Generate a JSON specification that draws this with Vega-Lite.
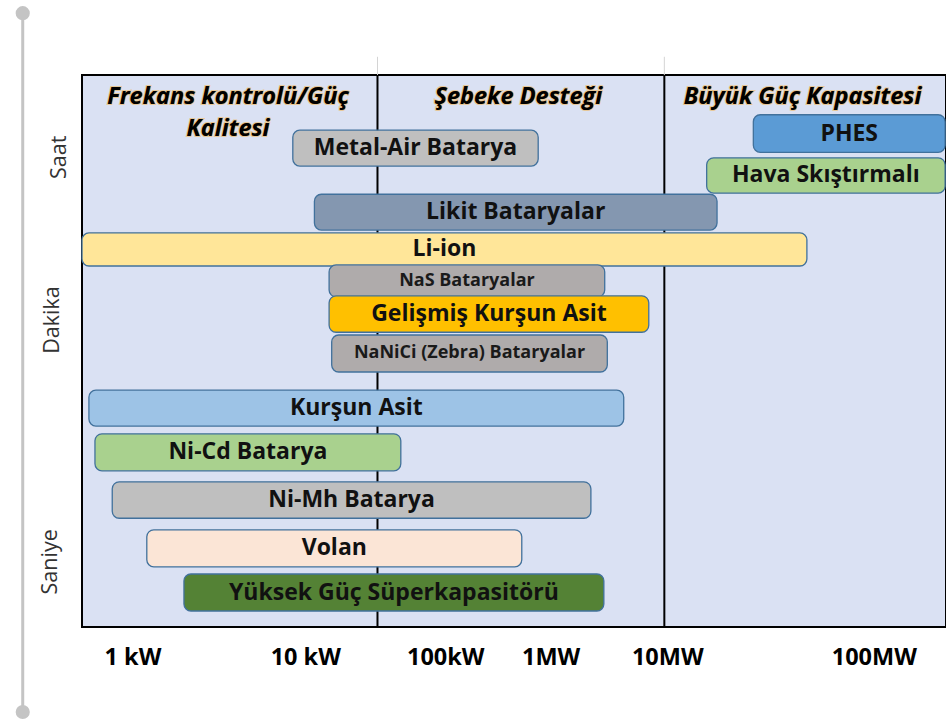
{
  "$schema": "https://vega.github.io/schema/vega-lite/v6.json",
  "width": 864,
  "height": 552,
  "autosize": {"type": "none"},
  "padding": {"left": 82, "top": 75, "right": 0, "bottom": 94},
  "background": "white",
  "config": {"view": {"fill": "#DAE1F3", "stroke": "#000000", "strokeWidth": 2}},
  "datasets": {
    "bars": [
      {"label": "Metal-Air Batarya", "start": 24.4, "end": 52.8, "y1": 10.0, "y2": 16.5},
      {"label": "PHES", "start": 77.7, "end": 99.9, "y1": 7.2, "y2": 14.0},
      {"label": "Hava Skıştırmalı", "start": 72.3, "end": 99.9, "y1": 15.0, "y2": 21.4},
      {"label": "Likit Bataryalar", "start": 26.9, "end": 73.5, "y1": 21.6, "y2": 28.1},
      {"label": "Li-ion", "start": 0.0, "end": 83.9, "y1": 28.6, "y2": 34.6},
      {"label": "NaS Bataryalar", "start": 28.6, "end": 60.5, "y1": 34.4, "y2": 40.2},
      {"label": "Gelişmiş Kurşun Asit", "start": 28.6, "end": 65.6, "y1": 40.0, "y2": 46.6},
      {"label": "NaNiCi (Zebra) Bataryalar", "start": 28.9, "end": 60.8, "y1": 47.1, "y2": 53.8},
      {"label": "Kurşun Asit", "start": 0.8, "end": 62.7, "y1": 57.1, "y2": 63.6},
      {"label": "Ni-Cd Batarya", "start": 1.5, "end": 36.9, "y1": 65.0, "y2": 71.7},
      {"label": "Ni-Mh Batarya", "start": 3.5, "end": 58.9, "y1": 73.7, "y2": 80.3},
      {"label": "Volan", "start": 7.5, "end": 50.9, "y1": 82.4, "y2": 89.1},
      {"label": "Yüksek Güç Süperkapasitörü", "start": 11.8, "end": 60.4, "y1": 90.4, "y2": 97.1}
    ],
    "dividers": [
      {"x": 34.2},
      {"x": 67.4}
    ],
    "headers": [
      {"text": ["Frekans kontrolü/Güç", "Kalitesi"], "x": 16.9, "y": 3.9},
      {"text": ["Şebeke Desteği"], "x": 50.5, "y": 3.9},
      {"text": ["Büyük Güç Kapasitesi"], "x": 83.4, "y": 3.9}
    ],
    "ticks": [
      {"text": "1 kW", "x": 5.9},
      {"text": "10 kW", "x": 25.9},
      {"text": "100kW", "x": 42.1},
      {"text": "1MW", "x": 54.3},
      {"text": "10MW", "x": 67.8},
      {"text": "100MW", "x": 91.7}
    ],
    "rowlabels": [
      {"text": "Saat", "x": -2.5, "y": 14.9},
      {"text": "Dakika", "x": -3.4, "y": 44.4},
      {"text": "Saniye", "x": -3.6, "y": 88.2}
    ],
    "deco": [
      {"x": -6.86, "y": -11.2, "y2": 115.4}
    ],
    "decoends": [
      {"x": -6.86, "y": -11.2},
      {"x": -6.86, "y": 115.4}
    ]
  },
  "layer": [
    {
      "data": {"name": "deco"},
      "mark": {"type": "rule", "color": "#C4C4C4", "strokeWidth": 3},
      "encoding": {
        "x": {"field": "x", "type": "quantitative", "scale": {"domain": [0, 100], "nice": false, "zero": false}, "axis": null},
        "y": {"field": "y", "type": "quantitative", "scale": {"domain": [0, 100], "nice": false, "zero": false, "reverse": true}, "axis": null},
        "y2": {"field": "y2"}
      }
    },
    {
      "data": {"name": "decoends"},
      "mark": {"type": "point", "filled": true, "color": "#C4C4C4", "size": 200, "opacity": 1},
      "encoding": {
        "x": {"field": "x", "type": "quantitative"},
        "y": {"field": "y", "type": "quantitative"}
      }
    },
    {
      "data": {"name": "dividers"},
      "mark": {"type": "rule", "color": "#000000", "strokeWidth": 2},
      "encoding": {
        "x": {"field": "x", "type": "quantitative"},
        "y": {"datum": 0},
        "y2": {"datum": 100}
      }
    },
    {
      "data": {"name": "dividers"},
      "mark": {"type": "rule", "color": "#D4D4D4", "strokeWidth": 1},
      "encoding": {
        "x": {"field": "x", "type": "quantitative"},
        "y": {"datum": -3.3},
        "y2": {"datum": 0}
      }
    },
    {
      "data": {"name": "headers"},
      "mark": {"type": "text", "font": "Open Sans", "fontSize": 23.5, "fontWeight": "bold", "fontStyle": "italic", "color": "#000000", "stroke": "#F2B24A", "strokeWidth": 2.2, "strokeOpacity": 0.55, "align": "center", "baseline": "middle", "lineHeight": 32},
      "encoding": {
        "x": {"field": "x", "type": "quantitative"},
        "y": {"field": "y", "type": "quantitative"},
        "text": {"field": "text"}
      }
    },
    {
      "data": {"name": "headers"},
      "mark": {"type": "text", "font": "Open Sans", "fontSize": 23.5, "fontWeight": "bold", "fontStyle": "italic", "color": "#000000", "align": "center", "baseline": "middle", "lineHeight": 32},
      "encoding": {
        "x": {"field": "x", "type": "quantitative"},
        "y": {"field": "y", "type": "quantitative"},
        "text": {"field": "text"}
      }
    },
    {
      "data": {"name": "bars"},
      "mark": {"type": "bar", "cornerRadius": 7, "stroke": "#41719C", "strokeWidth": 1.3},
      "encoding": {
        "x": {"field": "start", "type": "quantitative"},
        "x2": {"field": "end"},
        "y": {"field": "y1", "type": "quantitative"},
        "y2": {"field": "y2"},
        "color": {
          "field": "label",
          "type": "nominal",
          "legend": null,
          "scale": {
            "domain": ["Metal-Air Batarya", "PHES", "Hava Skıştırmalı", "Likit Bataryalar", "Li-ion", "NaS Bataryalar", "Gelişmiş Kurşun Asit", "NaNiCi (Zebra) Bataryalar", "Kurşun Asit", "Ni-Cd Batarya", "Ni-Mh Batarya", "Volan", "Yüksek Güç Süperkapasitörü"],
            "range": ["#BFBFBF", "#5B9BD5", "#A9D18E", "#8497B0", "#FFE699", "#AFABAB", "#FFC000", "#AFABAB", "#9DC3E6", "#A9D18E", "#BFBFBF", "#FBE5D6", "#548235"]
          }
        }
      }
    },
    {
      "data": {"name": "bars"},
      "transform": [
        {"filter": "datum.label !== 'NaS Bataryalar' && datum.label !== 'NaNiCi (Zebra) Bataryalar'"},
        {"fold": ["start", "end"], "as": ["xk", "xv"]},
        {"fold": ["y1", "y2"], "as": ["yk", "yv"]}
      ],
      "mark": {"type": "text", "font": "Open Sans", "fontSize": 23, "fontWeight": "bold", "color": "#111111", "align": "center", "baseline": "middle"},
      "encoding": {
        "x": {"aggregate": "mean", "field": "xv", "type": "quantitative"},
        "y": {"aggregate": "mean", "field": "yv", "type": "quantitative"},
        "text": {"field": "label", "type": "nominal"}
      }
    },
    {
      "data": {"name": "bars"},
      "transform": [
        {"filter": "datum.label === 'NaS Bataryalar' || datum.label === 'NaNiCi (Zebra) Bataryalar'"},
        {"fold": ["start", "end"], "as": ["xk", "xv"]},
        {"fold": ["y1", "y2"], "as": ["yk", "yv"]}
      ],
      "mark": {"type": "text", "font": "Open Sans", "fontSize": 18, "fontWeight": "bold", "color": "#1a1a1a", "align": "center", "baseline": "middle"},
      "encoding": {
        "x": {"aggregate": "mean", "field": "xv", "type": "quantitative"},
        "y": {"aggregate": "mean", "field": "yv", "type": "quantitative"},
        "text": {"field": "label", "type": "nominal"}
      }
    },
    {
      "data": {"name": "ticks"},
      "mark": {"type": "text", "font": "Open Sans", "fontSize": 23.5, "fontWeight": "bold", "color": "#000000", "align": "center", "baseline": "middle"},
      "encoding": {
        "x": {"field": "x", "type": "quantitative"},
        "y": {"datum": 105.6},
        "text": {"field": "text"}
      }
    },
    {
      "data": {"name": "rowlabels"},
      "mark": {"type": "text", "font": "Open Sans", "fontSize": 21.5, "color": "#333333", "align": "center", "baseline": "middle", "angle": 270},
      "encoding": {
        "x": {"field": "x", "type": "quantitative"},
        "y": {"field": "y", "type": "quantitative"},
        "text": {"field": "text"}
      }
    }
  ]
}
